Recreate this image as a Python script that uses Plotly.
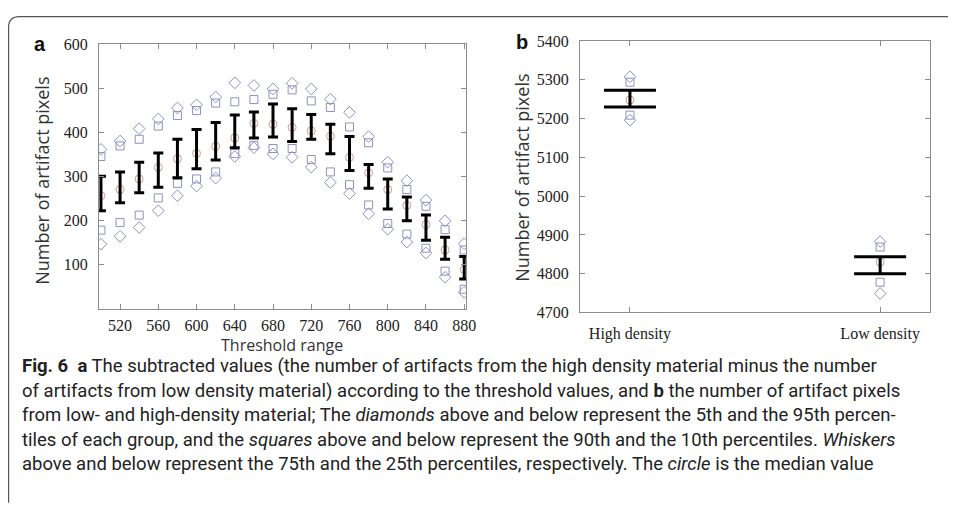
import plotly.graph_objects as go

# The page body has an 8px margin, so the figure is sized to fit the
# 956x512 window exactly and every reference pixel is shifted by 8px.
OFF = 8
W, H = 956 - OFF, 512 - 2 * OFF

# ---------- Panel a data ----------
thresholds = [500, 520, 540, 560, 580, 600, 620, 640, 660, 680,
              700, 720, 740, 760, 780, 800, 820, 840, 860, 880]
p95_a = [361, 380, 408, 430, 455, 462, 480, 512, 506, 498, 511, 498, 475, 445, 390, 332, 290, 246, 199, 147]
p90_a = [345, 369, 384, 414, 438, 449, 466, 469, 474, 486, 496, 471, 456, 412, 376, 319, 270, 232, 179, 133]
q75_a = [300, 310, 332, 353, 384, 406, 422, 439, 446, 464, 453, 440, 418, 390, 327, 294, 253, 212, 162, 118]
med_a = [256, 270, 294, 320, 340, 352, 368, 387, 420, 418, 411, 403, 391, 343, 308, 270, 234, 191, 133, 89]
q25_a = [222, 240, 263, 275, 297, 317, 337, 365, 387, 389, 379, 384, 351, 313, 273, 226, 199, 155, 112, 67]
p10_a = [178, 195, 212, 251, 284, 294, 310, 352, 370, 363, 363, 338, 310, 281, 235, 193, 169, 137, 85, 44]
p05_a = [146, 164, 184, 222, 256, 278, 296, 345, 365, 351, 343, 321, 286, 261, 215, 180, 151, 126, 71, 37]
xticks_a = [520, 560, 600, 640, 680, 720, 760, 800, 840, 880]
yticks_a = [100, 200, 300, 400, 500, 600]

# ---------- Panel b data ----------
groups_b = ["High density", "Low density"]
gpos_b = [1, 2]
p95_b = [5308, 4883]
p90_b = [5294, 4869]
q75_b = [5273, 4844]
med_b = [5248, 4830]
q25_b = [5230, 4800]
p10_b = [5209, 4778]
p05_b = [5196, 4749]
yticks_b = [4700, 4800, 4900, 5000, 5100, 5200, 5300, 5400]

OUT_COL = "#8f8fc4"
MED_COL = "#cc9a9a"
AX_COL = "#8c8c8c"
TICK_FONT = dict(family="Liberation Serif", size=16, color="#222")
SANS = "Open Sans"

fig = go.Figure()

def add_group(x, p95, p90, q75, med, q25, p10, p05, xa, ya, cap, dsize, ssize, csize):
    fig.add_trace(go.Scatter(x=x + x, y=p95 + p05, mode="markers", xaxis=xa, yaxis=ya,
                             marker=dict(symbol="diamond-open", size=dsize, color=OUT_COL,
                                         line=dict(width=1, color=OUT_COL)),
                             showlegend=False, hoverinfo="skip"))
    fig.add_trace(go.Scatter(x=x + x, y=p90 + p10, mode="markers", xaxis=xa, yaxis=ya,
                             marker=dict(symbol="square-open", size=ssize, color=OUT_COL,
                                         line=dict(width=1, color=OUT_COL)),
                             showlegend=False, hoverinfo="skip"))
    fig.add_trace(go.Scatter(x=x, y=med, mode="markers", xaxis=xa, yaxis=ya,
                             marker=dict(symbol="circle-open", size=csize, color=MED_COL,
                                         line=dict(width=1, color=MED_COL)),
                             showlegend=False, hoverinfo="skip"))
    mid = [(a + b) / 2 for a, b in zip(q75, q25)]
    half = [(a - b) / 2 for a, b in zip(q75, q25)]
    fig.add_trace(go.Scatter(x=x, y=mid, mode="markers", xaxis=xa, yaxis=ya,
                             marker=dict(size=1, color="rgba(0,0,0,0)"),
                             error_y=dict(type="data", array=half, symmetric=True,
                                          color="#000", thickness=3, width=cap),
                             showlegend=False, hoverinfo="skip"))

add_group(thresholds, p95_a, p90_a, q75_a, med_a, q25_a, p10_a, p05_a, "x", "y", 5, 9, 8, 8)
add_group(gpos_b, p95_b, p90_b, q75_b, med_b, q25_b, p10_b, p05_b, "x2", "y2", 26, 9, 8, 8)

def px_x(p):
    return (p - OFF) / W

def px_y(p):
    return 1 - (p - OFF) / H

axis_common = dict(showline=True, linecolor=AX_COL, linewidth=1, mirror="ticks",
                   ticks="inside", ticklen=5, tickcolor=AX_COL, showgrid=False,
                   zeroline=False, tickfont=TICK_FONT)

fig.update_layout(
    width=W, height=H, autosize=False,
    margin=dict(l=0, r=0, t=0, b=0),
    paper_bgcolor="white", plot_bgcolor="white",
    xaxis=dict(domain=[px_x(100), px_x(471)], range=[498, 882], tickvals=xticks_a,
               anchor="y", ticklabelstandoff=2, **axis_common),
    yaxis=dict(domain=[px_y(311), px_y(37)], range=[0, 600], tickvals=yticks_a,
               anchor="x", ticklabelstandoff=7, **axis_common),
    xaxis2=dict(domain=[px_x(586), px_x(940)], range=[0.8, 2.2], tickvals=gpos_b,
                ticktext=groups_b, anchor="y2", ticklabelstandoff=6, **axis_common),
    yaxis2=dict(domain=[px_y(315), px_y(34)], range=[4700, 5400], tickvals=yticks_b,
                anchor="x2", ticklabelstandoff=7, **axis_common),
)

ann = []
def add_text(x, y, text, font, angle=0, xanchor="center"):
    ann.append(dict(x=px_x(x), y=px_y(y), xref="paper", yref="paper", text=text,
                    textangle=angle, showarrow=False, xanchor=xanchor, yanchor="middle",
                    font=font))

# axis titles
add_text(42, 179, "Number of artifact pixels", dict(family=SANS, size=18, color="#333"), -90)
add_text(528, 176, "Number of artifact pixels", dict(family=SANS, size=18, color="#333"), -90)
add_text(285, 349, "Threshold range", dict(family=SANS, size=16, color="#333"))
# panel letters
add_text(40, 37, "<b>a</b>", dict(family="Liberation Sans", size=20, color="#111"))
add_text(527, 35, "<b>b</b>", dict(family="Liberation Sans", size=20, color="#111"))

caption_lines = [
    "<b>Fig. 6  a</b> The subtracted values (the number of artifacts from the high density material minus the number",
    "of artifacts from low density material) according to the threshold values, and <b>b</b> the number of artifact pixels",
    "from low- and high-density material; The <i>diamonds</i> above and below represent the 5th and the 95th percen-",
    "tiles of each group, and the <i>squares</i> above and below represent the 90th and the 10th percentiles. <i>Whiskers</i>",
    "above and below represent the 75th and the 25th percentiles, respectively. The <i>circle</i> is the median value",
]
caption_y = [370, 396, 421, 447, 472]
for t, yy in zip(caption_lines, caption_y):
    add_text(20, yy, t, dict(family="Roboto", size=18.5, color="#222"), xanchor="left")
fig.update_layout(annotations=ann)

# rounded frame around the figure (paper coordinates)
def P(x, y):
    return f"{px_x(x):.5f},{px_y(y):.5f}"
r = 11
top_y = OFF + 0.6
left_x = OFF + 0.6
path = (f"M {P(960, top_y)} L {P(left_x + r, top_y)} Q {P(left_x, top_y)} {P(left_x, top_y + r)} "
        f"L {P(left_x, 512)}")
fig.add_shape(type="path", xref="paper", yref="paper", path=path,
              line=dict(color="#555", width=1.2), layer="above")

fig.write_html("out.html", config={"displayModeBar": False})
